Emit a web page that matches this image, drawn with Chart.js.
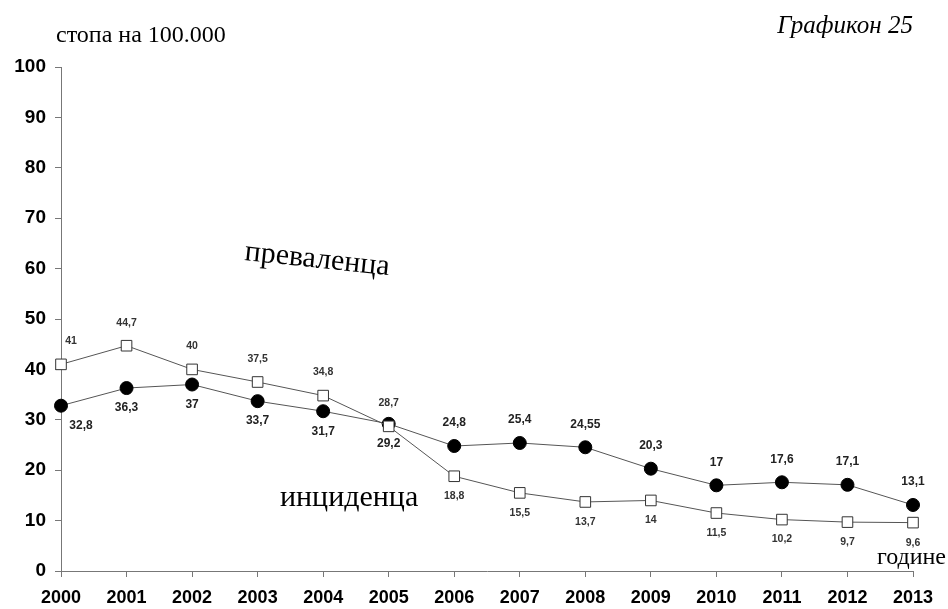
<!DOCTYPE html>
<html>
<head>
<meta charset="utf-8">
<script src="https://cdn.jsdelivr.net/npm/chart.js@4/dist/chart.umd.min.js"></script>
<style>
	html, body { margin: 0; padding: 0; background: #fff; }
	#wrap { position: relative; width: 948px; height: 609px; }
</style>
</head>
<body>
<div id="wrap"><canvas id="chart" width="948" height="609"></canvas></div>
<script>
// ─── Data ───────────────────────────────────────
const years = ["2000", "2001", "2002", "2003", "2004", "2005", "2006", "2007", "2008", "2009", "2010", "2011", "2012", "2013"];
const prevalenca = [41, 44.7, 40, 37.5, 34.8, 28.7, 18.8, 15.5, 13.7, 14, 11.5, 10.2, 9.7, 9.6];
const incidenca = [32.8, 36.3, 37, 33.7, 31.7, 29.2, 24.8, 25.4, 24.55, 20.3, 17, 17.6, 17.1, 13.1];
const yTicks = [0, 10, 20, 30, 40, 50, 60, 70, 80, 90, 100];

const SANS = "'Liberation Sans', Arial, sans-serif";
const SERIF = "'Liberation Serif', 'Times New Roman', serif";
const fmtVal = (v) => String(v).replace(".", ",");

// ─── Plugins ────────────────────────────────────
// value labels: squares above until 2005, below after; circles the opposite
const valueLabels = {
	id: "valueLabels",
	afterDatasetsDraw(chart) {
		const ctx = chart.ctx;
		chart.data.datasets.forEach((ds, di) => {
			const meta = chart.getDatasetMeta(di);
			meta.data.forEach((pt, i) => {
				const early = i <= 5;
				const above = di === 0 ? early : !early;
				ctx.save();
				ctx.font = di === 0 ? `bold 10.5px ${SANS}` : `bold 12px ${SANS}`;
				ctx.fillStyle = di === 0 ? "#333" : "#222";
				ctx.textBaseline = "middle";
				ctx.textAlign = "center";
				let x = pt.x;
				if (i === 0) x += di === 0 ? 10 : 20;
				const y = above ? pt.y - 23 : pt.y + 20;
				ctx.fillText(fmtVal(ds.data[i]), x, y);
				ctx.restore();
			});
		});
	},
};

const annotations = {
	id: "annotations",
	afterDraw(chart) {
		const ctx = chart.ctx;
		ctx.save();
		ctx.fillStyle = "#000";
		ctx.textBaseline = "alphabetic";

		ctx.font = `24px ${SERIF}`;
		ctx.textAlign = "left";
		ctx.fillText("стопа на 100.000", 56, 42);

		ctx.font = `italic 25px ${SERIF}`;
		ctx.textAlign = "right";
		ctx.fillText("Графикон 25", 913, 33);

		ctx.font = `24px ${SERIF}`;
		ctx.textAlign = "right";
		ctx.fillText("године", 946, 564);

		ctx.font = `30px ${SERIF}`;
		ctx.textAlign = "left";
		ctx.fillText("инциденца", 280, 506);

		ctx.translate(244, 260);
		ctx.rotate(6 * Math.PI / 180);
		ctx.fillText("преваленца", 0, 0);
		ctx.restore();
	},
};

// ─── Chart ──────────────────────────────────────
new Chart(document.getElementById("chart").getContext("2d"), {
	type: "line",
	data: {
		labels: years,
		datasets: [
			{
				label: "преваленца",
				data: prevalenca,
				borderColor: "#555",
				borderWidth: 1,
				pointStyle: "rect",
				pointRadius: 7.5,
				pointBackgroundColor: "#fff",
				pointBorderColor: "#333",
				pointBorderWidth: 1,
				tension: 0,
			},
			{
				label: "инциденца",
				data: incidenca,
				borderColor: "#555",
				borderWidth: 1,
				pointStyle: "circle",
				pointRadius: 6.5,
				pointBackgroundColor: "#000",
				pointBorderColor: "#000",
				pointBorderWidth: 1,
				tension: 0,
			},
		],
	},
	options: {
		responsive: false,
		animation: false,
		layout: { padding: { left: 0, right: 35, top: 67, bottom: 0 } },
		plugins: {
			legend: { display: false },
			tooltip: { enabled: false },
		},
		scales: {
			x: {
				offset: false,
				grid: { drawOnChartArea: false, tickLength: 6, color: "#777" },
				border: { color: "#777", width: 1 },
				ticks: {
					color: "#000",
					font: { family: SANS, size: 18, weight: "bold" },
					padding: 10,
					maxRotation: 0,
					autoSkip: false,
				},
				afterFit: (s) => { s.height = 38; },
			},
			y: {
				min: 0,
				max: 100,
				afterBuildTicks: (s) => { s.ticks = yTicks.map((v) => ({ value: v })); },
				grid: { drawOnChartArea: false, tickLength: 6, color: "#777" },
				border: { color: "#777", width: 1 },
				ticks: {
					color: "#000",
					font: { family: SANS, size: 19, weight: "bold" },
					padding: 9,
				},
				afterFit: (s) => { s.width = 61; },
			},
		},
	},
	plugins: [valueLabels, annotations],
});
</script>
</body>
</html>
